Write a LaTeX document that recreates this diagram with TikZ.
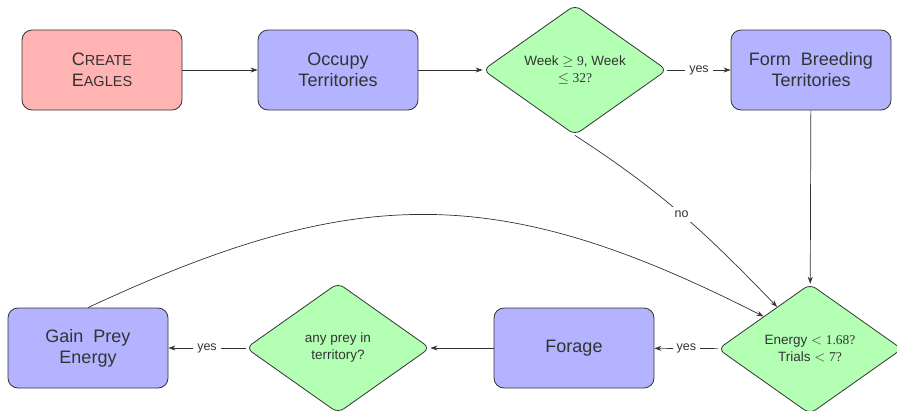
\documentclass[tikz,border=0pt]{standalone}
\usepackage{fontspec}
\setmainfont{Liberation Sans}
\newfontfamily\serifnum{Liberation Serif}
\usetikzlibrary{shapes.geometric,arrows.meta}
\definecolor{ink}{HTML}{333333}
\definecolor{redfill}{HTML}{FFB3B3}
\definecolor{bluefill}{HTML}{B3B3FF}
\definecolor{greenfill}{HTML}{B3FFB3}
\newcommand\fsc[2]{{\fontsize{18}{21}\selectfont #1}{\fontsize{14.5}{21}\selectfont #2}}
\tikzset{
 base/.style={draw=ink, text=ink, line width=0.8pt, align=center},
 procbox/.style={base, rectangle, rounded corners=10pt, minimum width=160pt, minimum height=80pt, inner sep=0pt, font=\fontsize{18}{21}\selectfont, fill=bluefill},
 startbox/.style={procbox, fill=redfill},
 decision/.style={base, diamond, rounded corners=7pt, minimum width=184pt, minimum height=130pt, aspect=1.42, inner sep=0pt, fill=greenfill, font=\fontsize{13.5}{17}\selectfont},
 conn/.style={draw=ink, line width=0.7pt, -{Stealth[length=7pt,width=5pt]}},
 lbl/.style={fill=white, text=ink, font=\fontsize{12.5}{15}\selectfont, inner sep=4pt}
}
\begin{document}
\begin{tikzpicture}[x=1pt,y=1pt]
\useasboundingbox (0,0) rectangle (897,-410);
\node[startbox] (ce) at (102,-70) {\fsc{C}{REATE}\\\fsc{E}{AGLES}};
\node[procbox] (ot) at (338,-70) {Occupy\\Territories};
\node[decision] (d1) at (575,-70) {Week $\geq$ {\serifnum 9}, Week\\$\leq$ {\serifnum 32?}};
\node[procbox] (fb) at (811,-70) {Form\ \ Breeding\\Territories};
\node[decision] (d2) at (810,-349) {Energy $<$ {\serifnum 1.68?}\\Trials $<$ {\serifnum 7?}};
\node[procbox] (fo) at (574,-348) {Forage};
\node[decision] (d3) at (338,-348) {any prey in\\territory?};
\node[procbox] (gp) at (88,-348) {Gain\ \ Prey\\Energy};

\draw[conn] (ce) -- (ot);
\draw[conn] (ot) -- (d1);
\draw[conn] (d1) -- node[lbl]{yes} (fb);
\draw[conn] (fb) -- (d2);
\draw[conn] (d1.south) to[out=-33,in=134] node[lbl,pos=0.5]{no} (d2.128);
\draw[conn] (gp.north) to[out=25,in=153,looseness=1.12] (d2.145);
\draw[conn] (d2) -- node[lbl]{yes} (fo);
\draw[conn] (fo) -- (d3);
\draw[conn] (d3) -- node[lbl]{yes} (gp);
\end{tikzpicture}
\end{document}
